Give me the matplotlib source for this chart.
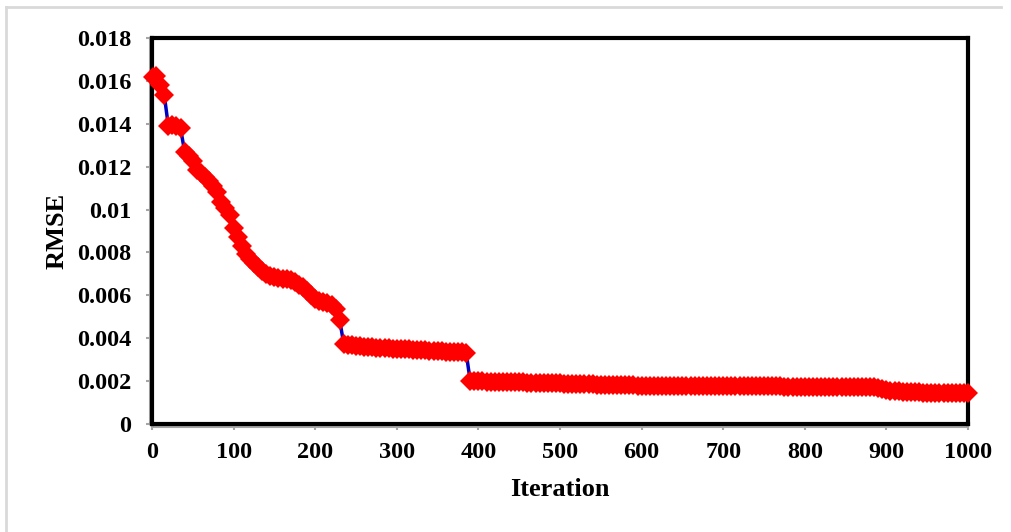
"""RMSE convergence over 1000 iterations (Excel-style line chart)."""
import matplotlib
matplotlib.use("Agg")
import matplotlib.pyplot as plt
from matplotlib.lines import Line2D
from matplotlib import transforms

# values, one reading every 5 iterations
iteration = [1] + list(range(5, 1001, 5))
rmse = [
    0.01620, 0.01622, 0.01580, 0.01535, 0.01390, 0.01392, 0.01388, 0.01378, 0.01270, 0.01252,  # 1-45
    0.01225, 0.01185, 0.01170, 0.01152, 0.01132, 0.01110, 0.01080, 0.01035, 0.01005, 0.00975,  # 50-95
    0.00915, 0.00870, 0.00830, 0.00795, 0.00770, 0.00750, 0.00730, 0.00713, 0.00700, 0.00690,  # 100-145
    0.00684, 0.00680, 0.00677, 0.00674, 0.00670, 0.00662, 0.00650, 0.00637, 0.00620, 0.00602,  # 150-195
    0.00585, 0.00575, 0.00567, 0.00562, 0.00557, 0.00535, 0.00485, 0.00373, 0.00369, 0.00367,  # 200-245
    0.00365, 0.00362, 0.00360, 0.00359, 0.00357, 0.00356, 0.00355, 0.00354, 0.00353, 0.00352,  # 250-295
    0.00351, 0.00350, 0.00349, 0.00348, 0.00347, 0.00346, 0.00344, 0.00343, 0.00342, 0.00341,  # 300-345
    0.00340, 0.00339, 0.00338, 0.00337, 0.00336, 0.00335, 0.00334, 0.00332, 0.00200, 0.00200,  # 350-395
    0.00199, 0.00199, 0.00198, 0.00198, 0.00197, 0.00197, 0.00196, 0.00196, 0.00195, 0.00195,  # 400-445
    0.00194, 0.00194, 0.00193, 0.00192, 0.00192, 0.00191, 0.00191, 0.00190, 0.00190, 0.00189,  # 450-495
    0.00189, 0.00188, 0.00188, 0.00187, 0.00187, 0.00186, 0.00186, 0.00185, 0.00185, 0.00184,  # 500-545
    0.00184, 0.00183, 0.00183, 0.00182, 0.00182, 0.00181, 0.00181, 0.00180, 0.00180, 0.00179,  # 550-595
    0.00179, 0.00178, 0.00178, 0.00178, 0.00177, 0.00177, 0.00177, 0.00177, 0.00177, 0.00176,  # 600-645
    0.00176, 0.00176, 0.00176, 0.00176, 0.00176, 0.00176, 0.00176, 0.00176, 0.00176, 0.00176,  # 650-695
    0.00176, 0.00176, 0.00176, 0.00175, 0.00175, 0.00175, 0.00175, 0.00175, 0.00175, 0.00175,  # 700-745
    0.00175, 0.00175, 0.00175, 0.00175, 0.00175, 0.00174, 0.00174, 0.00174, 0.00174, 0.00174,  # 750-795
    0.00174, 0.00174, 0.00174, 0.00174, 0.00174, 0.00174, 0.00174, 0.00174, 0.00174, 0.00174,  # 800-845
    0.00174, 0.00174, 0.00174, 0.00174, 0.00174, 0.00174, 0.00174, 0.00173, 0.00166, 0.00161,  # 850-895
    0.00158, 0.00156, 0.00154, 0.00152, 0.00151, 0.00150, 0.00149, 0.00148, 0.00147, 0.00146,  # 900-945
    0.00146, 0.00145, 0.00145, 0.00145, 0.00144, 0.00144, 0.00144, 0.00144, 0.00143, 0.00143,  # 950-995
    0.00143,  # 1000
]
x_ticks = [0, 100, 200, 300, 400, 500, 600, 700, 800, 900, 1000]
y_ticks = [0, 0.002, 0.004, 0.006, 0.008, 0.01, 0.012, 0.014, 0.016, 0.018]
y_tick_labels = ["0", "0.002", "0.004", "0.006", "0.008", "0.01", "0.012",
                 "0.014", "0.016", "0.018"]

FONT = "Liberation Serif"
FS = 17.5
FS_LABEL = 19
GRAY = "#a6a6a6"

plt.rcParams["font.family"] = [FONT, "DejaVu Serif"]
plt.rcParams["font.weight"] = "bold"

fig = plt.figure(figsize=(10.11, 5.32), dpi=100)
ax = fig.add_axes([152 / 1011, 1 - 424 / 532, (968 - 152) / 1011, (424 - 38) / 532])

ax.plot(iteration, rmse, color="#0000c0", lw=2.5, marker="D", ms=10,
        mfc="#ff0000", mec="#ff0000", mew=0, clip_on=False, zorder=3)

ax.set_xlim(0, 1000)
ax.set_ylim(0, 0.018)
ax.set_xticks(x_ticks)
ax.set_xticklabels([str(v) for v in x_ticks])
ax.set_yticks(y_ticks)
ax.set_yticklabels(y_tick_labels)
ax.tick_params(axis="both", direction="out", length=4, width=1.5, color=GRAY,
               labelsize=FS)
ax.tick_params(axis="y", pad=11)
ax.tick_params(axis="x", pad=9)
for lab in ax.get_xticklabels() + ax.get_yticklabels():
    lab.set_fontweight("bold")

for side in ("top", "right", "left", "bottom"):
    ax.spines[side].set_color("black")
    ax.spines[side].set_linewidth(3)

# gray axis lines drawn just outside the black plot border (Excel look)
off_l = transforms.offset_copy(ax.transAxes, fig=fig, x=-2.5, y=0, units="dots")
off_b = transforms.offset_copy(ax.transAxes, fig=fig, x=0, y=-2.5, units="dots")
ax.add_line(Line2D([0, 0], [0, 1], transform=off_l, color=GRAY, lw=1.5, clip_on=False))
ax.add_line(Line2D([0, 1], [0, 0], transform=off_b, color=GRAY, lw=1.5, clip_on=False))

ax.set_xlabel("Iteration", fontsize=FS_LABEL, fontweight="bold", labelpad=11)
ax.set_ylabel("RMSE", fontsize=FS_LABEL, fontweight="bold", labelpad=6)

# light gray chart-area border (top and left edges visible)
fig.add_artist(Line2D([6 / 1011, 1001 / 1011], [1 - 7 / 532, 1 - 7 / 532],
                      transform=fig.transFigure, color="#d9d9d9", lw=2))
fig.add_artist(Line2D([6 / 1011, 6 / 1011], [0, 1 - 7 / 532],
                      transform=fig.transFigure, color="#d9d9d9", lw=2))

fig.savefig("out.png", dpi=100)
